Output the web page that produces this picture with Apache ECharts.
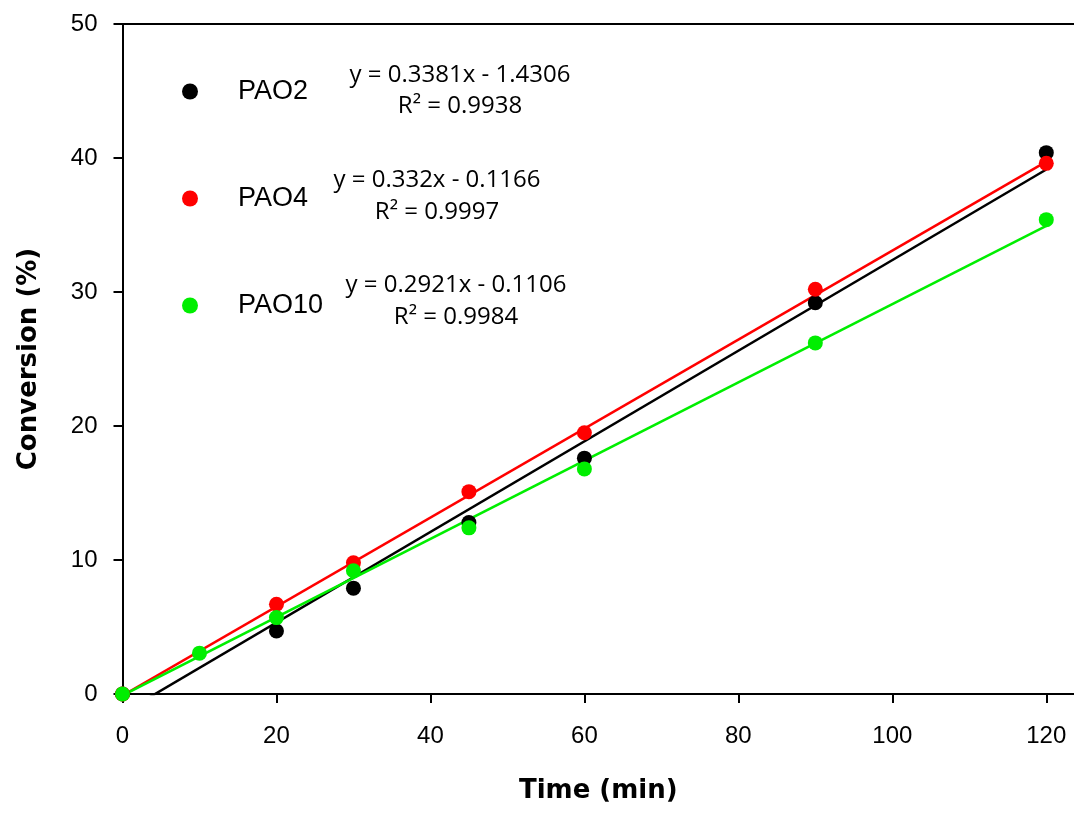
<!DOCTYPE html>
<html>
<head>
<meta charset="utf-8">
<title>Conversion vs time</title>
<script src="https://cdn.jsdelivr.net/npm/echarts@6/dist/echarts.min.js"></script>
<style>
  html, body { margin: 0; padding: 0; background: #fff; }
  #chart { width: 1074px; height: 814px; }
</style>
</head>
<body>
<div id="chart"></div>
<script>
// Measured conversion (%) against reaction time (min)
const timePAO2 = [0, 20, 30, 45, 60, 90, 120];
const convPAO2 = [0, 4.7, 7.9, 12.8, 17.6, 29.2, 40.4];

const timePAO4 = [0, 20, 30, 45, 60, 90, 120];
const convPAO4 = [0, 6.7, 9.8, 15.1, 19.5, 30.2, 39.6];

const timePAO10 = [0, 10, 20, 30, 45, 60, 90, 120];
const convPAO10 = [0, 3.05, 5.7, 9.2, 12.4, 16.8, 26.2, 35.4];

// Linear fits (slope, intercept, R²) as printed beside the legend
const seriesNames = ['PAO2', 'PAO4', 'PAO10'];
const fitSlopes = [0.3381, 0.332, 0.2921];
const fitIntercepts = [-1.4306, -0.1166, -0.1106];
const fitR2 = ['0.9938', '0.9997', '0.9984'];
const fitRange = [0, 120];

const xTicks = [0, 20, 40, 60, 80, 100, 120];
const yTicks = [0, 10, 20, 30, 40, 50];

const colors = ['#000000', '#ff0000', '#00ee00'];
const times = [timePAO2, timePAO4, timePAO10];
const convs = [convPAO2, convPAO4, convPAO10];

const chart = echarts.init(document.getElementById('chart'));

function fitLine(i) {
  return fitRange.map(x => [x, fitSlopes[i] * x + fitIntercepts[i]]);
}

function signed(v) {
  return v < 0 ? ' - ' + Math.abs(v) : ' + ' + v;
}

const series = [];
// fit lines first, then the measured points on top
seriesNames.forEach((name, i) => {
  series.push({
    name: name + ' fit',
    type: 'line',
    data: fitLine(i),
    showSymbol: false,
    symbol: 'none',
    clip: true,
    lineStyle: { color: colors[i], width: 2.5 },
    z: 2,
    silent: true
  });
});
seriesNames.forEach((name, i) => {
  series.push({
    name: name,
    type: 'scatter',
    data: times[i].map((t, k) => [t, convs[i][k]]),
    symbol: 'circle',
    symbolSize: 15,
    itemStyle: { color: colors[i], opacity: 1 },
    z: 3 + i
  });
});

// Fit equation labels, centred on each point
const eqCenters = [[460, 75, 106], [437, 180, 212], [456, 285, 317]];
const graphics = [];
seriesNames.forEach((name, i) => {
  const c = eqCenters[i];
  graphics.push({
    type: 'text', x: c[0], y: c[1], z: 10,
    style: {
      text: 'y = ' + fitSlopes[i] + 'x' + signed(fitIntercepts[i]),
      align: 'center', verticalAlign: 'middle',
      font: '24px "Open Sans"', fill: '#000'
    }
  });
  graphics.push({
    type: 'text', x: c[0], y: c[2], z: 10,
    style: {
      text: 'R² = ' + fitR2[i],
      align: 'center', verticalAlign: 'middle',
      font: '24px "Open Sans"', fill: '#000'
    }
  });
});

const axisFont = { fontFamily: '"Liberation Sans", Arial, sans-serif', fontSize: 24, color: '#000' };

chart.setOption({
  animation: false,
  backgroundColor: '#fff',
  grid: { left: 122.5, right: 0, top: 24, bottom: 120, containLabel: false },
  legend: {
    data: seriesNames,
    orient: 'vertical',
    left: 182,
    top: 78,
    icon: 'circle',
    itemWidth: 16,
    itemHeight: 16,
    itemGap: 80,
    padding: 0,
    selectedMode: false,
    textStyle: {
      fontFamily: '"Liberation Sans", Arial, sans-serif', fontSize: 27, color: '#000',
      lineHeight: 26, padding: [0, 0, 0, 35]
    }
  },
  xAxis: [{
    type: 'value',
    min: 0,
    max: 123.6,
    interval: 20,
    position: 'bottom',
    name: 'Time (min)',
    nameLocation: 'middle',
    nameGap: 84,
    nameTextStyle: { fontFamily: '"DejaVu Sans", sans-serif', fontWeight: 'bold', fontSize: 26, color: '#000' },
    axisLine: { show: true, onZero: false, lineStyle: { color: '#000', width: 2 } },
    axisTick: { show: true, inside: false, length: 9, lineStyle: { color: '#000', width: 2 }, customValues: xTicks },
    axisLabel: Object.assign({ margin: 30, customValues: xTicks }, axisFont),
    splitLine: { show: false }
  }, {
    type: 'value',
    min: 0,
    max: 123.6,
    position: 'top',
    axisLine: { show: true, onZero: false, lineStyle: { color: '#000', width: 2 } },
    axisTick: { show: false },
    axisLabel: { show: false },
    splitLine: { show: false }
  }],
  yAxis: {
    type: 'value',
    min: 0,
    max: 50,
    interval: 10,
    name: 'Conversion (%)',
    nameLocation: 'middle',
    nameGap: 80,
    nameTextStyle: { fontFamily: '"DejaVu Sans", sans-serif', fontWeight: 'bold', fontSize: 26, color: '#000' },
    axisLine: { show: true, onZero: false, lineStyle: { color: '#000', width: 2 } },
    axisTick: { show: true, inside: false, length: 9, lineStyle: { color: '#000', width: 2 }, customValues: yTicks },
    axisLabel: Object.assign({ margin: 25, customValues: yTicks }, axisFont),
    splitLine: { show: false }
  },
  series: series,
  graphic: graphics
});
</script>
</body>
</html>
